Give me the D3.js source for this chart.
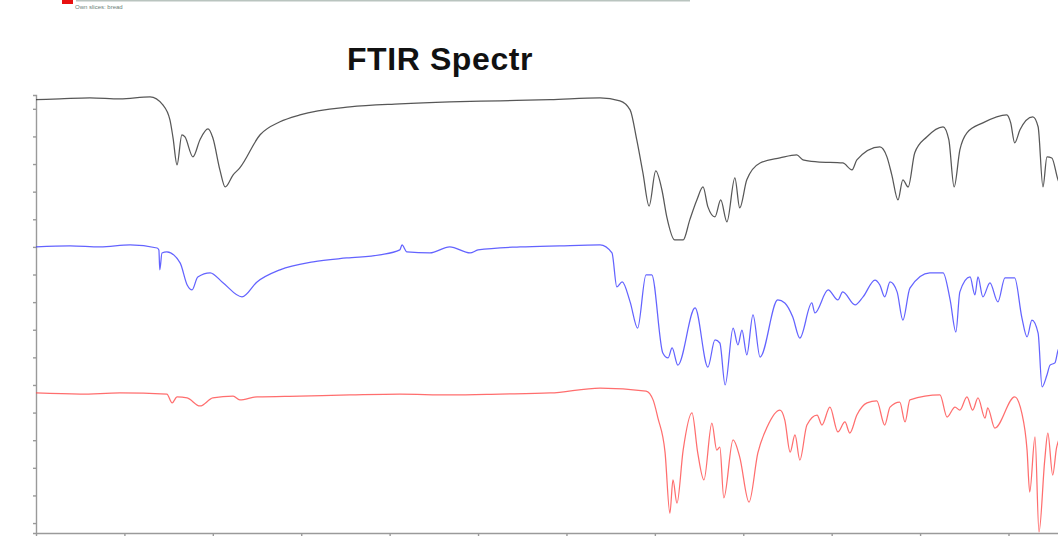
<!DOCTYPE html>
<html>
<head>
<meta charset="utf-8">
<script src="https://cdn.jsdelivr.net/npm/d3@7"></script>
<style>
  body { margin: 0; background: #fff; }
  svg { display: block; }
</style>
</head>
<body>
<div id="chart"></div>
<script>
// wavenumber (cm-1), offset transmittance
var blackWn = [4000, 3946, 3878, 3810, 3742, 3713, 3697, 3690, 3681, 3670, 3663, 3645, 3629, 3611, 3600, 3584, 3572, 3554, 3539, 3493, 3448, 3403, 3290, 3177, 3064, 2950, 2837, 2724, 2679, 2656, 2641, 2627, 2613, 2598, 2584, 2573, 2555, 2536, 2521, 2505, 2491, 2480, 2464, 2451, 2437, 2419, 2408, 2392, 2362, 2317, 2279, 2265, 2233, 2175, 2154, 2143, 2091, 2075, 2064, 2050, 2039, 2027, 2012, 1985, 1948, 1935, 1923, 1910, 1894, 1858, 1804, 1795, 1786, 1774, 1745, 1733, 1722, 1713, 1702, 1688, 1672];
var blackT = [153.3, 153.6, 154.0, 153.6, 154.3, 151.4, 146.0, 139.5, 129.7, 140.6, 139.8, 132.6, 138.8, 142.7, 139.5, 127.9, 121.7, 126.1, 128.6, 140.6, 145.3, 147.8, 150.7, 151.8, 152.5, 152.9, 153.3, 154.0, 152.9, 149.6, 138.8, 126.8, 114.8, 127.5, 120.6, 110.9, 102.5, 102.5, 109.8, 117.0, 121.7, 114.5, 110.9, 117.0, 109.1, 125.0, 114.1, 124.3, 130.4, 132.2, 133.3, 131.5, 130.8, 130.4, 127.9, 131.5, 136.2, 132.6, 126.1, 117.0, 124.3, 121.7, 134.1, 139.8, 143.5, 138.8, 121.7, 135.1, 141.3, 144.9, 147.8, 144.9, 137.7, 142.4, 147.1, 143.5, 121.7, 132.6, 132.2, 124.3, 120.6];

var blueWn = [4000, 3923, 3855, 3787, 3726, 3722, 3720, 3715, 3704, 3674, 3658, 3647, 3634, 3606, 3577, 3534, 3500, 3448, 3373, 3297, 3222, 3177, 3172, 3161, 3109, 3064, 3018, 3000, 2905, 2815, 2724, 2697, 2686, 2674, 2656, 2639, 2620, 2607, 2582, 2570, 2561, 2548, 2509, 2480, 2464, 2453, 2441, 2423, 2412, 2403, 2392, 2378, 2362, 2322, 2306, 2288, 2272, 2245, 2238, 2208, 2186, 2175, 2147, 2129, 2102, 2091, 2080, 2068, 2052, 2039, 2023, 1978, 1948, 1932, 1919, 1910, 1887, 1876, 1869, 1858, 1842, 1824, 1808, 1786, 1770, 1758, 1747, 1733, 1724, 1713, 1706, 1695, 1688, 1672];
var blueT = [100.0, 100.4, 100.0, 100.7, 99.6, 98.9, 91.7, 97.8, 98.2, 94.2, 86.2, 84.4, 89.1, 90.6, 87.0, 81.9, 87.3, 91.7, 94.6, 96.0, 97.1, 98.9, 100.7, 98.2, 97.8, 100.0, 97.8, 98.9, 100.0, 100.4, 100.7, 97.8, 85.5, 87.3, 80.1, 70.6, 89.9, 89.9, 61.6, 59.8, 63.4, 57.2, 77.9, 56.5, 66.3, 65.2, 50.0, 70.6, 64.5, 69.9, 60.9, 75.4, 60.1, 80.8, 79.7, 74.6, 67.0, 79.7, 76.1, 84.4, 80.8, 83.7, 79.0, 81.9, 88.0, 86.2, 81.9, 87.3, 83.7, 73.5, 85.1, 90.6, 90.6, 80.8, 69.2, 83.7, 89.1, 82.6, 89.1, 81.9, 87.0, 80.1, 88.8, 88.8, 74.6, 67.4, 73.5, 68.8, 49.3, 53.6, 57.2, 58.0, 62.5, 66.0];

var redWn = [4000, 3900, 3810, 3704, 3692, 3681, 3658, 3629, 3600, 3554, 3539, 3500, 3403, 3290, 3177, 3064, 2950, 2837, 2724, 2620, 2604, 2593, 2577, 2566, 2559, 2550, 2536, 2516, 2503, 2489, 2471, 2460, 2453, 2444, 2423, 2408, 2387, 2367, 2346, 2317, 2306, 2294, 2283, 2272, 2256, 2233, 2222, 2204, 2186, 2170, 2159, 2143, 2120, 2098, 2080, 2068, 2046, 2034, 2023, 1955, 1939, 1921, 1910, 1894, 1881, 1869, 1853, 1847, 1831, 1786, 1770, 1758, 1752, 1740, 1731, 1718, 1711, 1700, 1691, 1672];
var redT = [47.1, 46.7, 47.1, 46.7, 43.5, 45.7, 45.3, 42.4, 45.3, 46.0, 44.6, 45.7, 46.0, 46.4, 46.7, 46.4, 46.7, 47.1, 48.9, 47.8, 44.6, 38.0, 25.7, 3.6, 15.6, 7.2, 26.4, 39.9, 25.4, 15.6, 36.2, 26.4, 27.5, 9.1, 30.1, 23.9, 7.6, 25.4, 34.8, 40.9, 37.3, 25.7, 31.9, 22.8, 35.5, 39.1, 35.5, 42.0, 33.0, 36.6, 32.6, 39.1, 43.5, 44.2, 35.5, 42.0, 43.8, 36.6, 44.6, 46.4, 38.4, 42.0, 40.9, 45.7, 40.9, 45.3, 38.0, 41.7, 34.4, 45.7, 39.9, 26.4, 11.2, 31.2, -3.2, 22.8, 32.6, 17.4, 27.5, 33.7];

var xTicks = d3.range(4000, 1599, -200);
var yTicks = d3.range(0, 151, 10);

var seriesNames = ["Sample A", "Sample B", "Sample C"];
var seriesColors = ["#3a3a3a", "#3c3cff", "#ff4a4a"];

var svgWidth = 1058;
var svgHeight = 536;

var svg = d3.select("#chart")
  .append("svg")
  .attr("width", svgWidth)
  .attr("height", svgHeight);

// plot area: left axis at 36, bottom axis at 533
var xScale = d3.scaleLinear()
  .domain([4000, 1688])
  .range([36, 1058]);

var yScale = d3.scaleLinear()
  .domain([-3.6, 155])
  .range([533, 95]);

// legend remnants at the very top (cropped)
svg.append("rect")
  .attr("x", 76)
  .attr("y", 0)
  .attr("width", 614)
  .attr("height", 1.5)
  .attr("fill", "#b9c4bf");

svg.append("rect")
  .attr("x", 62)
  .attr("y", 0)
  .attr("width", 11)
  .attr("height", 4)
  .attr("fill", "#e81010");

svg.append("text")
  .attr("x", 75)
  .attr("y", 9)
  .attr("font-family", "Liberation Sans, Arial, sans-serif")
  .attr("font-size", 6)
  .attr("fill", "#6b7f78")
  .text("Own slices: bread");

// title
svg.append("text")
  .attr("x", 440)
  .attr("y", 70)
  .attr("text-anchor", "middle")
  .attr("font-family", "Liberation Sans, Arial, sans-serif")
  .attr("font-weight", "bold")
  .attr("font-size", 32)
  .attr("letter-spacing", 0.6)
  .attr("fill", "#111")
  .text("FTIR Spectr");

// axes
var leftAxis = d3.axisLeft(yScale)
  .tickValues(yTicks)
  .tickSize(3)
  .tickSizeOuter(3)
  .tickFormat("");

var bottomAxis = d3.axisBottom(xScale)
  .tickValues(xTicks)
  .tickSize(3)
  .tickSizeOuter(0)
  .tickFormat("");

var yAxis = svg.append("g")
  .attr("transform", "translate(36, 0)")
  .call(leftAxis);

var xAxis = svg.append("g")
  .attr("transform", "translate(0, 533)")
  .call(bottomAxis);

svg.selectAll(".domain, .tick line")
  .attr("stroke", "#9a9a9a")
  .attr("stroke-width", 1.4);

// spectra
var line = d3.line()
  .x(d => xScale(d[0]))
  .y(d => yScale(d[1]))
  .curve(d3.curveMonotoneX);

var spectra = [
  d3.zip(blackWn, blackT),
  d3.zip(blueWn, blueT),
  d3.zip(redWn, redT)
];

svg.append("g")
  .selectAll("path")
  .data(spectra)
  .enter()
  .append("path")
  .attr("d", d => line(d))
  .attr("fill", "none")
  .attr("stroke", (d, i) => seriesColors[i])
  .attr("stroke-width", 1.25)
  .attr("stroke-opacity", (d, i) => i === 0 ? 0.85 : 0.8)
  .append("title")
  .text((d, i) => seriesNames[i]);
</script>
</body>
</html>
